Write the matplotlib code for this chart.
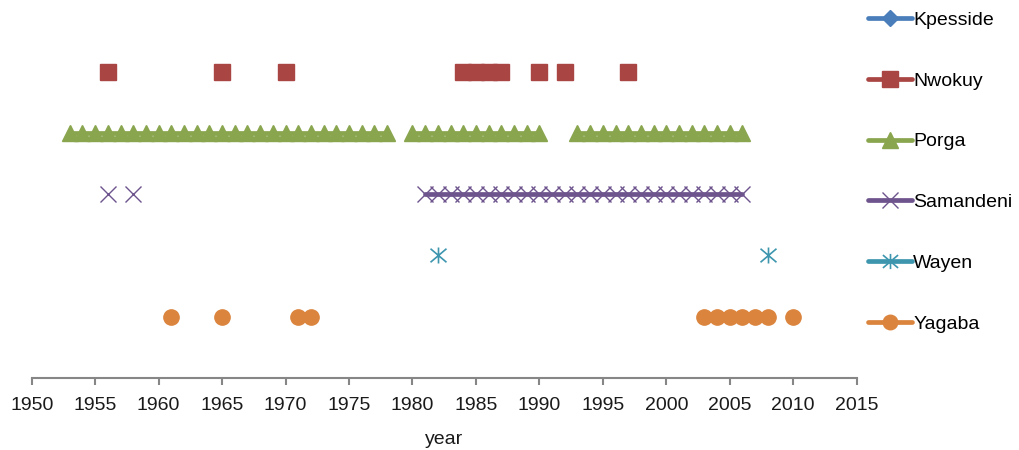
import numpy as np
import matplotlib
matplotlib.use("Agg")
import matplotlib.pyplot as plt
from matplotlib.path import Path

plt.rcParams['font.family'] = ['Liberation Sans', 'DejaVu Sans']

# ---- data ----
series_names = ["Kpesside", "Nwokuy", "Porga", "Samandeni", "Wayen", "Yagaba"]
levels = [6, 5, 4, 3, 2, 1]
kpesside_years = []
nwokuy_years = [1956, 1965, 1970, 1984, 1985, 1986, 1987, 1990, 1992, 1997]
porga_years = list(range(1953, 1979)) + list(range(1980, 1991)) + list(range(1993, 2007))
samandeni_years = [1956, 1958] + list(range(1981, 2007))
wayen_years = [1982, 2008]
yagaba_years = [1961, 1965, 1971, 1972, 2003, 2004, 2005, 2006, 2007, 2008, 2010]
all_years = np.arange(1950, 2016)
xticks = list(range(1950, 2016, 5))

colors = ["#4A7EBB", "#A94644", "#89A54E", "#6E548D", "#3D96AE", "#DB843D"]

star = Path([(-1, -0.85), (1, 0.85), (-1, 0.85), (1, -0.85), (0, -1), (0, 1)],
            [Path.MOVETO, Path.LINETO, Path.MOVETO, Path.LINETO, Path.MOVETO, Path.LINETO])

styles = [
    dict(marker='D', ms=9),
    dict(marker='s', ms=11.5),
    dict(marker='^', ms=12),
    dict(marker='x', ms=11.5, mew=1.0),
    dict(marker=star, ms=11.5, mew=1.2),
    dict(marker='o', ms=11),
]
year_lists = [kpesside_years, nwokuy_years, porga_years, samandeni_years, wayen_years, yagaba_years]

fig = plt.figure(figsize=(10.19, 4.5), dpi=100)
ax = fig.add_axes([0.0311, 0.1607, 0.8096, 0.8156])

handles = []
for name, lvl, yrs, c, st in zip(series_names, levels, year_lists, colors, styles):
    yv = np.full(all_years.shape, np.nan)
    for y in yrs:
        yv[all_years == y] = lvl
    h, = ax.plot(all_years, yv, color=c, lw=3.4, mec=c, mfc=c, label=name,
                 solid_capstyle='round', **st)
    handles.append(h)

ax.set_xlim(1950, 2015)
ax.set_ylim(0, 6)
ax.set_xticks(xticks)
ax.set_xticklabels([str(t) for t in xticks], fontsize=14, color='#1a1a1a')
ax.set_yticks([])
for s in ['left', 'right', 'top']:
    ax.spines[s].set_visible(False)
ax.spines['bottom'].set_color('#868686')
ax.spines['bottom'].set_linewidth(1.5)
ax.tick_params(axis='x', direction='out', length=5, width=1.5, color='#868686', pad=9)
ax.set_xlabel("year", fontsize=14, color='#1a1a1a', labelpad=12)

leg = fig.legend(handles=handles, loc='upper left', bbox_to_anchor=(0.835, 1.014),
                 frameon=False, fontsize=14, handlelength=2.25, handletextpad=0.05,
                 labelspacing=2.22, markerscale=0.95)

fig.savefig("out.png", dpi=100)
